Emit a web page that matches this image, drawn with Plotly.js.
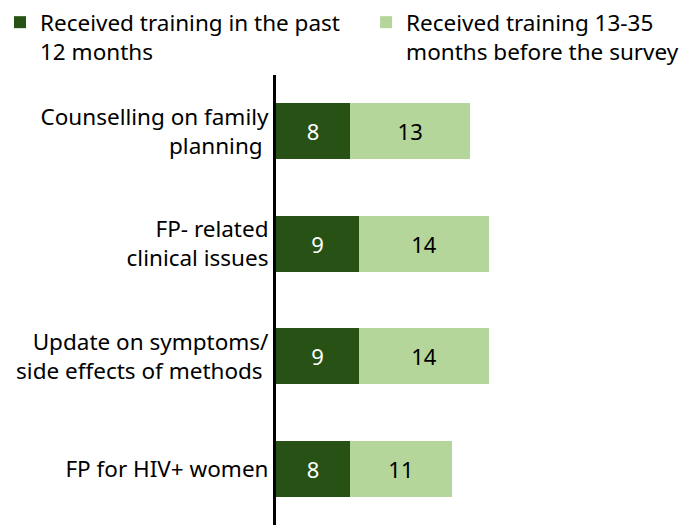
<!DOCTYPE html>
<html>
<head>
<meta charset="utf-8">
<script src="https://cdn.plot.ly/plotly-3.0.1.min.js"></script>
<style>html,body{margin:0;padding:0;background:#fff;}#chart{width:696px;height:525px;}</style>
</head>
<body>
<div id="chart"></div>
<script>
const categories = [
  "Counselling on family<br>planning ",
  "FP- related<br>clinical issues",
  "Update on symptoms/<br>side effects of methods ",
  "FP for HIV+ women"
];
const past12 = [8, 9, 9, 8];
const months13to35 = [13, 14, 14, 11];
const seriesNames = ["Received training in the past<br>12 months", "Received training 13-35<br>months before the survey"];

const FONT = "Noto Sans, Open Sans, sans-serif";
const FS = 22.5;
const traces = [
  {
    type: 'bar', orientation: 'h', name: seriesNames[0], legend: 'legend',
    y: categories, x: past12,
    text: past12.map(String), textposition: 'inside', insidetextanchor: 'middle',
    insidetextfont: {color: '#ffffff', size: 22, family: FONT},
    marker: {color: '#285215'}, hoverinfo: 'none'
  },
  {
    type: 'bar', orientation: 'h', name: seriesNames[1], legend: 'legend2',
    y: categories, x: months13to35,
    text: months13to35.map(String), textposition: 'inside', insidetextanchor: 'middle',
    insidetextfont: {color: '#000000', size: 22, family: FONT},
    marker: {color: '#b5d69a'}, hoverinfo: 'none'
  }
];
const legendBase = {
  xref: 'container', yref: 'container', y: 0.998, xanchor: 'left', yanchor: 'top',
  valign: 'top', bgcolor: 'rgba(0,0,0,0)',
  font: {size: FS, family: FONT, color: '#000'}, itemclick: false
};
const layout = {
  width: 696, height: 525,
  margin: {l: 276, r: 0, t: 75, b: 0, autoexpand: false},
  barmode: 'stack', bargap: 0.5,
  paper_bgcolor: '#ffffff', plot_bgcolor: '#ffffff',
  font: {family: FONT, size: FS, color: '#000'},
  showlegend: true,
  legend: Object.assign({}, legendBase, {x: 0}),
  legend2: Object.assign({}, legendBase, {x: 0.526}),
  xaxis: {range: [0, 45.4], visible: false, fixedrange: true},
  yaxis: {
    autorange: false, range: [3.5, -0.5], type: 'category',
    showline: true, linecolor: '#000', linewidth: 3,
    ticks: '', showgrid: false, zeroline: false, ticklabelstandoff: 0,
    tickfont: {size: FS, family: FONT, color: '#000'}, fixedrange: true
  }
};
Plotly.newPlot('chart', traces, layout, {displayModeBar: false, staticPlot: true});
</script>
</body>
</html>
